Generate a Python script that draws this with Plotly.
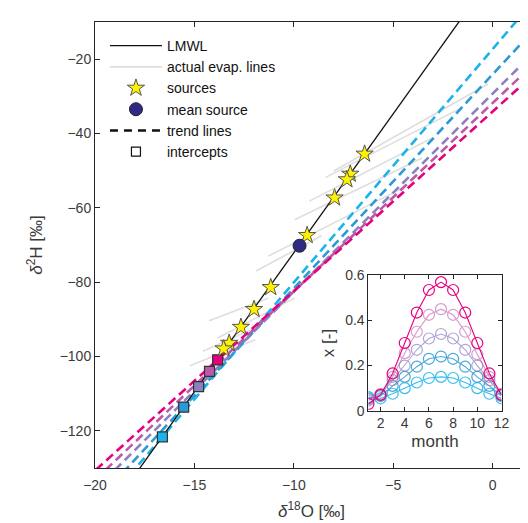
import numpy as np
import plotly.graph_objects as go

# ---------------- data ----------------
lmwl_slope = 7.48
lmwl_intercept = 2.7

src_d18O = [-6.44, -7.16, -7.33, -7.95, -9.33, -11.16, -12.0, -12.66, -13.25, -13.53]
src_d2H = [-45.5, -50.9, -52.4, -57.3, -67.4, -81.4, -87.3, -92.1, -96.4, -97.9]

mean_d18O = [-9.71]
mean_d2H = [-70.2]

# actual evaporation lines (start / end points)
evap_x0 = [-7.99, -8.40, -9.22, -9.96, -11.29, -11.9, -14.26, -13.83, -14.57, -15.23]
evap_y0 = [-50.1, -51.8, -58.2, -63.2, -73.0, -77.0, -90.4, -95.0, -98.6, -102.5]
evap_x1 = [-0.23, -1.57, -3.05, -3.54, -4.53, -8.6, -11.29, -9.96, -11.94, -11.94]
evap_y1 = [-26.7, -33.1, -41.2, -46.6, -54.7, -67.5, -84.3, -84.3, -92.3, -95.5]

# trend lines: intercept with LMWL and slope (5 scenarios)
int_d18O = [-16.61, -15.54, -14.79, -14.24, -13.83]
int_d2H = [-121.6, -113.6, -108.1, -104.0, -100.9]
trend_slope = [6.28, 5.76, 5.33, 5.07, 4.83]
scen_colors = ["#1bb3ea", "#2b99d5", "#8a80c2", "#bb5aa8", "#e6007e"]

# inset: fraction x per month for the 5 scenarios
months = list(range(1, 13))
x_frac = [
    [0.060, 0.055, 0.075, 0.100, 0.125, 0.145, 0.150, 0.145, 0.125, 0.100, 0.075, 0.055],
    [0.055, 0.065, 0.110, 0.150, 0.195, 0.230, 0.240, 0.230, 0.195, 0.150, 0.110, 0.065],
    [0.050, 0.070, 0.135, 0.200, 0.270, 0.320, 0.340, 0.320, 0.270, 0.200, 0.135, 0.070],
    [0.045, 0.075, 0.150, 0.255, 0.350, 0.425, 0.450, 0.425, 0.350, 0.250, 0.150, 0.075],
    [0.030, 0.070, 0.165, 0.300, 0.435, 0.535, 0.570, 0.535, 0.435, 0.300, 0.165, 0.070],
]
inset_opacity = [0.85, 0.85, 0.7, 0.6, 1.0]

FONT = "Liberation Sans, Arial, Helvetica, sans-serif"
TXT = "#3a3a3a"
AX = "#262626"

fig = go.Figure()

# gray evaporation lines
gx, gy = [], []
for a, b, c, d in zip(evap_x0, evap_y0, evap_x1, evap_y1):
    gx += [a, c, None]
    gy += [b, d, None]
fig.add_trace(go.Scatter(x=gx, y=gy, mode="lines", line=dict(color="#dedede", width=1.6),
                         name="actual evap. lines", legendrank=2, hoverinfo="skip"))

# trend lines
xs = np.array([-21.0, 3.0])
for xi, yi, s, col in zip(int_d18O, int_d2H, trend_slope, scen_colors):
    fig.add_trace(go.Scatter(x=xs, y=yi + s * (xs - xi), mode="lines",
                             line=dict(color=col, width=2.6, dash="9px,5px"),
                             showlegend=False, hoverinfo="skip"))

# LMWL
lx = np.array([-21.0, 3.0])
fig.add_trace(go.Scatter(x=lx, y=lmwl_slope * lx + lmwl_intercept, mode="lines",
                         line=dict(color="#111111", width=1.3), name="LMWL", legendrank=1))

# intercept squares
fig.add_trace(go.Scatter(x=int_d18O, y=int_d2H, mode="markers",
                         marker=dict(symbol="square", size=10, color=scen_colors,
                                     line=dict(color="#333333", width=1.2)),
                         showlegend=False))

# sources
fig.add_trace(go.Scatter(x=src_d18O, y=src_d2H, mode="markers", name="sources", legendrank=3,
                         marker=dict(symbol="star", size=13, color="#fff200",
                                     line=dict(color="#555555", width=1))))

# mean source
fig.add_trace(go.Scatter(x=mean_d18O, y=mean_d2H, mode="markers", name="mean source", legendrank=4,
                         marker=dict(symbol="circle", size=13, color="#2f2a86",
                                     line=dict(color="#222222", width=1))))

# legend-only entries
fig.add_trace(go.Scatter(x=[None], y=[None], mode="lines", name="trend lines", legendrank=5,
                         line=dict(color="#111111", width=2.6, dash="8px,6px")))
fig.add_trace(go.Scatter(x=[None], y=[None], mode="markers", name="intercepts", legendrank=6,
                         marker=dict(symbol="square-open", size=9, color="#111111",
                                     line=dict(width=1.2))))

# inset
for vals, col, op in zip(x_frac, scen_colors, inset_opacity):
    fig.add_trace(go.Scatter(x=months, y=vals, mode="lines+markers", xaxis="x2", yaxis="y2",
                             opacity=op, showlegend=False,
                             line=dict(color=col, width=1.1),
                             marker=dict(symbol="circle-open", size=11, color=col,
                                         line=dict(width=1.2))))

fig.update_layout(
    width=528, height=523,
    margin=dict(l=87, r=0, t=14, b=63),
    paper_bgcolor="white", plot_bgcolor="white",
    font=dict(family=FONT, size=14, color=TXT),
    showlegend=True,
    legend=dict(x=0.023, y=0.982, xanchor="left", yanchor="top", bgcolor="rgba(0,0,0,0)",
                font=dict(size=14, color="#111111"), itemwidth=52, tracegroupgap=0),
    xaxis=dict(range=[-20, 1.78], tickvals=[-20, -15, -10, -5, 0], showgrid=False, zeroline=False,
               showline=True, linecolor=AX, linewidth=1, mirror="ticks", ticks="inside",
               ticklen=5, tickcolor=AX, ticklabelstandoff=4,
               title=dict(text="<i>δ</i><sup>18</sup>O [‰]", standoff=13)),
    yaxis=dict(range=[-130, -10], tickvals=[-120, -100, -80, -60, -40, -20], showgrid=False,
               zeroline=False, showline=True, linecolor=AX, linewidth=1, ticks="inside",
               ticklen=5, tickcolor=AX,
               title=dict(text="<i>δ</i><sup>2</sup>H [‰]", standoff=12)),
    xaxis2=dict(domain=[0.6315, 0.9388], anchor="y2", range=[1, 12], tickvals=[2, 4, 6, 8, 10, 12],
                showgrid=False, zeroline=False, showline=True, linecolor=AX, mirror="ticks",
                ticks="inside", ticklen=4, tickcolor=AX,
                title=dict(text="month", standoff=4)),
    yaxis2=dict(domain=[0.1285, 0.432], anchor="x2", range=[0, 0.6], tickvals=[0, 0.2, 0.4, 0.6],
                showgrid=False, zeroline=False, showline=True, linecolor=AX, mirror="ticks",
                ticks="inside", ticklen=4, tickcolor=AX,
                title=dict(text="x [-]", standoff=6)),
)

fig.write_html("out.html")
